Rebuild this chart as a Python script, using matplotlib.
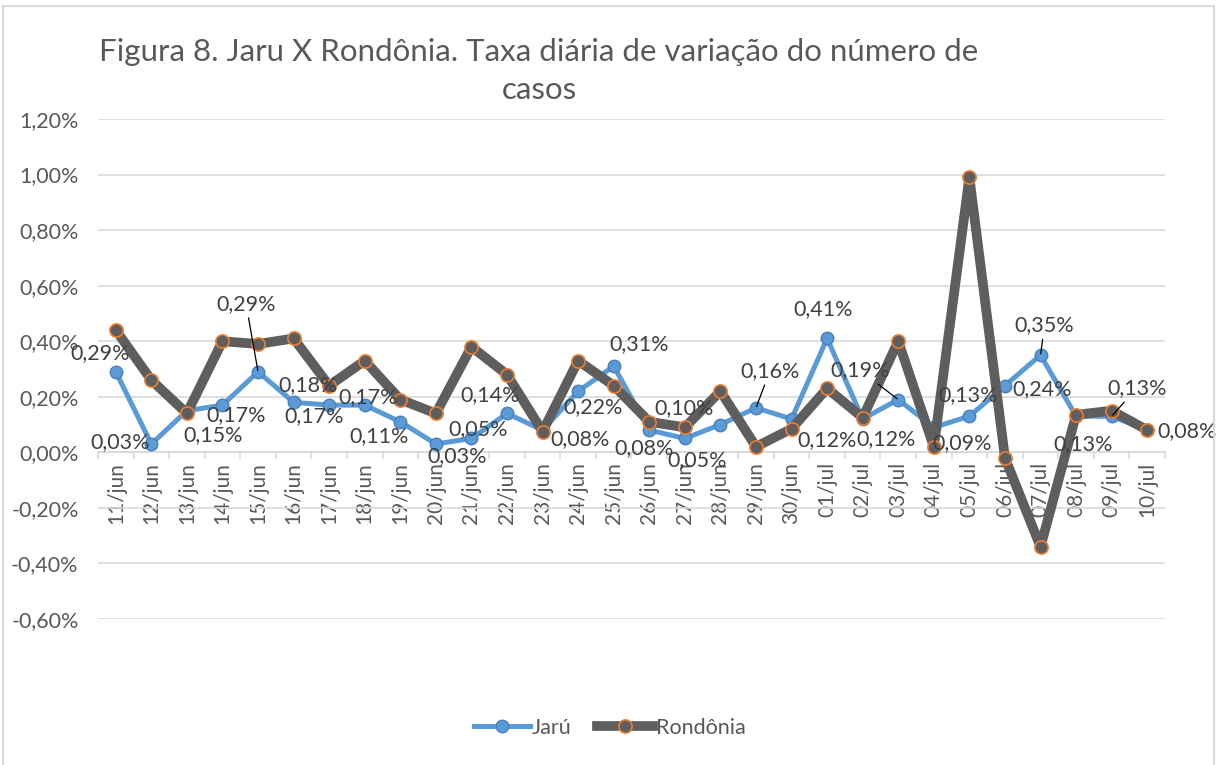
import numpy as np
import matplotlib.pyplot as plt
from matplotlib.patches import Rectangle
from matplotlib.lines import Line2D

plt.rcParams['font.family'] = ['Lato', 'DejaVu Sans']

datas = ['11/jun', '12/jun', '13/jun', '14/jun', '15/jun', '16/jun', '17/jun', '18/jun',
         '19/jun', '20/jun', '21/jun', '22/jun', '23/jun', '24/jun', '25/jun', '26/jun',
         '27/jun', '28/jun', '29/jun', '30/jun', '01/jul', '02/jul', '03/jul', '04/jul',
         '05/jul', '06/jul', '07/jul', '08/jul', '09/jul', '10/jul']

# taxa diaria (%)
jaru = [0.29, 0.03, 0.15, 0.17, 0.29, 0.18, 0.17, 0.17, 0.11, 0.03,
        0.05, 0.14, 0.08, 0.22, 0.31, 0.08, 0.05, 0.10, 0.16, 0.12,
        0.41, 0.12, 0.19, 0.09, 0.13, 0.24, 0.35, 0.13, 0.13, 0.08]
rondonia = [0.44, 0.26, 0.14, 0.40, 0.39, 0.41, 0.24, 0.33, 0.19, 0.14,
            0.38, 0.28, 0.075, 0.33, 0.24, 0.11, 0.09, 0.22, 0.02, 0.085,
            0.23, 0.125, 0.40, 0.02, 0.99, -0.02, -0.34, 0.135, 0.15, 0.08]

yticks = [-0.6, -0.4, -0.2, 0.0, 0.2, 0.4, 0.6, 0.8, 1.0, 1.2]

# deslocamento dos rotulos (pixels, x direita / y para cima)
offs = [(-16, 19), (-31, 2), (26, -24), (14, -10), (-12, 68), (14, 17), (-15, -11),
        (3, 8), (-21, -14), (21, -12), (7, 9), (-17, 18), (37, -9), (15, -16),
        (25, 22), (-5, -18), (12, -22), (-36, 16), (14, 37), (36, -21),
        (-4, 29), (23, -20), (-38, 29), (28, -16), (-1, 21), (37, -3),
        (4, 30), (7, -28), (25, 28), (40, -1)]
leader = [4, 18, 22, 26, 28]

fig = plt.figure(figsize=(12.19, 7.65), dpi=100)
ax = fig.add_axes([98 / 1219, 146 / 765, 1067 / 1219, 500 / 765])

x = np.arange(len(datas))
ax.plot(x, jaru, color='#5B9BD5', linewidth=3.6, marker='o', markersize=9,
        markerfacecolor='#5B9BD5', markeredgecolor='#4A7EC0', markeredgewidth=1, zorder=3)
ax.plot(x, rondonia, color='#5E5E5E', linewidth=7, marker='o', markersize=9.5,
        markerfacecolor='#5E5E5E', markeredgecolor='#ED7D31', markeredgewidth=1.2, zorder=4)

for i, v in enumerate(jaru):
    txt = ('%.2f%%' % v).replace('.', ',')
    dx, dy = offs[i]
    if i in leader:
        ax.annotate(txt, (x[i], v), xytext=(dx, dy), textcoords='offset pixels',
                    ha='center', va='center', fontsize=15.5, color='#404040', zorder=6,
                    arrowprops=dict(arrowstyle='-', color='black', lw=0.9,
                                    shrinkA=1, shrinkB=1))
    else:
        ax.annotate(txt, (x[i], v), xytext=(dx, dy), textcoords='offset pixels',
                    ha='center', va='center', fontsize=15.5, color='#404040', zorder=6)

ax.set_xlim(-0.5, len(datas) - 0.5)
ax.set_ylim(-0.6, 1.2)
ax.set_yticks(yticks)
ax.set_yticklabels([('%.2f%%' % t).replace('.', ',') for t in yticks])
ax.yaxis.grid(True, color='#D9D9D9', linewidth=1.2)
ax.set_axisbelow(True)
for s in ['top', 'right', 'left']:
    ax.spines[s].set_visible(False)
ax.spines['bottom'].set_position(('data', 0))
ax.spines['bottom'].set_color('#D9D9D9')
ax.spines['bottom'].set_linewidth(1.2)

ax.set_xticks(x)
ax.set_xticklabels(datas, rotation=90)
ax.set_xticks(np.arange(-0.5, len(datas), 1), minor=True)
ax.tick_params(axis='x', which='major', length=0, pad=7, labelsize=15, labelcolor='#595959')
ax.tick_params(axis='x', which='minor', length=5, color='#D9D9D9', width=1.2)
ax.tick_params(axis='y', length=0, pad=14, labelsize=15.5, labelcolor='#595959')

fig.text(539 / 1219, 1 - 71 / 765,
         'Figura 8. Jaru X Rondônia. Taxa diária de variação do número de\ncasos',
         ha='center', va='center', fontsize=22.5, color='#595959', linespacing=1.45)

h1 = Line2D([], [], color='#5B9BD5', linewidth=3.6, marker='o', markersize=9,
            markerfacecolor='#5B9BD5', markeredgecolor='#4A7EC0')
h2 = Line2D([], [], color='#5E5E5E', linewidth=7, marker='o', markersize=9.5,
            markerfacecolor='#5E5E5E', markeredgecolor='#ED7D31', markeredgewidth=1.2)
leg = fig.legend([h1, h2], ['Jarú', 'Rondônia'], loc='center',
                 bbox_to_anchor=(0.5, 1 - 728 / 765), ncol=2, frameon=False,
                 fontsize=15.5, handlelength=2.6, handletextpad=0.1, columnspacing=1.2)
for t in leg.get_texts():
    t.set_color('#595959')

fig.patches.append(Rectangle((3 / 1219, -0.01), 1211 / 1219, 1 - 6 / 765 + 0.01,
                             transform=fig.transFigure, fill=False,
                             edgecolor='#D9D9D9', linewidth=1.5))

plt.savefig('out.png', dpi=100)
